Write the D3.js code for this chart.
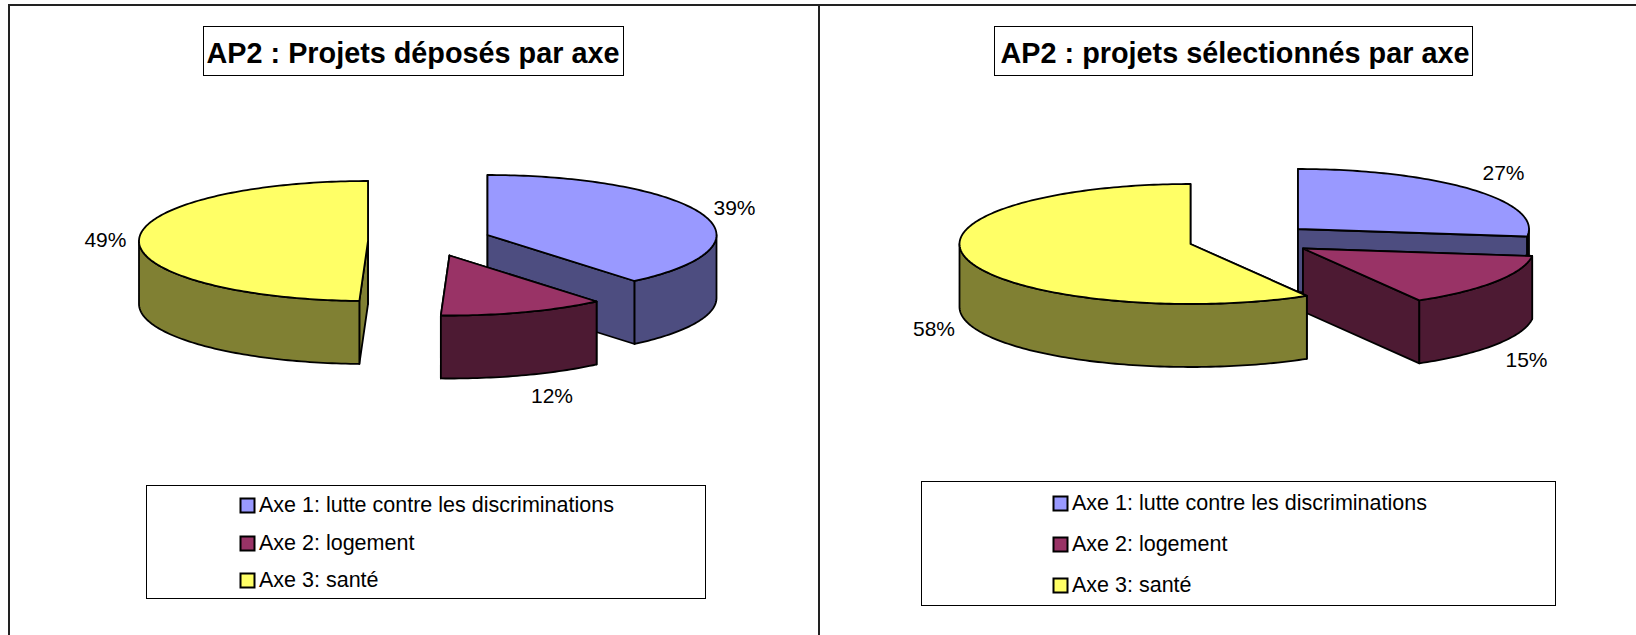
<!DOCTYPE html>
<html>
<head>
<meta charset="utf-8">
<script src="https://cdn.jsdelivr.net/npm/d3@7"></script>
<style>
  body { margin: 0; background: #fff; }
  text { font-family: "Liberation Sans", Arial, sans-serif; fill: #000; }
</style>
</head>
<body>
<svg id="chart"></svg>
<script>
var categories = ["Axe 1: lutte contre les discriminations", "Axe 2: logement", "Axe 3: santé"];
var deposes = [38.9, 11.7, 49.4];
var deposesLabels = ["39%", "12%", "49%"];
var selectionnes = [27, 14.6, 58.4];
var selectionnesLabels = ["27%", "15%", "58%"];
var topColors = ["#9999ff", "#993366", "#ffff66"];
var sideColors = ["#4d4d80", "#4d1a33", "#808033"];

var width = 1636, height = 635;

var svg = d3.select("#chart")
    .attr("width", width)
    .attr("height", height)
    .style("display", "block");

var topColor = d3.scaleOrdinal().domain(categories).range(topColors);
var sideColor = d3.scaleOrdinal().domain(categories).range(sideColors);

var pie = d3.pie().sort(null);

var line = d3.line();

// point on the tilted ellipse, angle clockwise from 12 o'clock
function ellipsePoint(c, a, g, dy) {
    return [c[0] + g.rx * Math.sin(a), c[1] - g.ry * Math.cos(a) + (dy || 0)];
}

function arcPoints(c, a0, a1, g, dy) {
    var n = Math.max(2, Math.ceil(Math.abs(a1 - a0) / 0.02));
    return d3.range(n + 1).map(function (i) {
        return ellipsePoint(c, a0 + (a1 - a0) * i / n, g, dy);
    });
}

function outline(sel, fill) {
    sel.attr("fill", fill)
        .attr("stroke", "#000")
        .attr("stroke-width", 1.8)
        .attr("stroke-linejoin", "round");
}

function drawPie(chart) {
    var g = svg.append("g");
    var slices = pie(chart.values);

    // blue first, then the others on top, same order as the original
    slices.forEach(function (s, i) {
        var c = chart.centers[i];
        var name = categories[i];
        var start = [c[0], c[1]];
        var face = g.append("g");

        // the two cut faces
        [s.startAngle, s.endAngle].forEach(function (a) {
            var p = ellipsePoint(c, a, chart);
            face.append("path")
                .attr("d", line([start, p, [p[0], p[1] + chart.depth], [c[0], c[1] + chart.depth]]) + "Z")
                .call(outline, sideColor(name));
        });

        // outer rim, only the part turned to the viewer
        var a0 = Math.max(s.startAngle, Math.PI / 2);
        var a1 = Math.min(s.endAngle, Math.PI * 1.5);
        if (a1 > a0) {
            var pts = arcPoints(c, a0, a1, chart)
                .concat(arcPoints(c, a1, a0, chart, chart.depth));
            face.append("path")
                .attr("d", line(pts) + "Z")
                .call(outline, sideColor(name));
        }

        // top
        face.append("path")
            .attr("d", line([start].concat(arcPoints(c, s.startAngle, s.endAngle, chart))) + "Z")
            .call(outline, topColor(name));
    });

    // percent labels
    g.selectAll("text.pct")
        .data(chart.labels)
        .enter()
        .append("text")
        .attr("class", "pct")
        .attr("x", function (d, i) { return chart.labelPos[i][0]; })
        .attr("y", function (d, i) { return chart.labelPos[i][1]; })
        .attr("text-anchor", "middle")
        .attr("dominant-baseline", "central")
        .style("font-size", "21px")
        .text(function (d) { return d; });

    // title
    var t = chart.title;
    svg.append("rect")
        .attr("x", t.x0 + 0.5).attr("y", t.y0 + 0.5)
        .attr("width", t.x1 - t.x0).attr("height", t.y1 - t.y0)
        .attr("fill", "#fff").attr("stroke", "#000");
    svg.append("text")
        .attr("x", t.cx)
        .attr("y", (t.y0 + t.y1) / 2 + 2)
        .attr("text-anchor", "middle")
        .attr("dominant-baseline", "central")
        .style("font-size", "28.8px")
        .style("font-weight", "bold")
        .text(t.text);

    // legend
    var l = chart.legend;
    svg.append("rect")
        .attr("x", l.x0 + 0.5).attr("y", l.y0 + 0.5)
        .attr("width", l.x1 - l.x0).attr("height", l.y1 - l.y0)
        .attr("fill", "#fff").attr("stroke", "#000");
    var rows = svg.selectAll(null)
        .data(categories)
        .enter()
        .append("g")
        .attr("transform", function (d, i) { return "translate(" + l.x + "," + l.rows[i] + ")"; });
    rows.append("rect")
        .attr("x", 0.5).attr("y", -6.5)
        .attr("width", 14).attr("height", 14)
        .attr("fill", function (d) { return topColor(d); })
        .attr("stroke", "#000")
        .attr("stroke-width", 2);
    rows.append("text")
        .attr("x", 19)
        .attr("dominant-baseline", "central")
        .style("font-size", "21.5px")
        .text(function (d) { return d; });
}

// page frame
svg.append("line").attr("x1", 8).attr("x2", 1636).attr("y1", 5).attr("y2", 5).attr("stroke", "#222").attr("stroke-width", 2);
svg.append("line").attr("x1", 9).attr("x2", 9).attr("y1", 4).attr("y2", 635).attr("stroke", "#222").attr("stroke-width", 2);
svg.append("line").attr("x1", 819).attr("x2", 819).attr("y1", 4).attr("y2", 635).attr("stroke", "#222").attr("stroke-width", 2);

drawPie({
    values: deposes,
    labels: deposesLabels,
    centers: [[487.5, 235], [449.5, 255.5], [368, 241]],
    rx: 229, ry: 60, depth: 63,
    labelPos: [[734.5, 207.6], [552, 395.5], [105.4, 239]],
    title: { text: "AP2 : Projets déposés par axe", x0: 203, x1: 623, y0: 26, y1: 75, cx: 413 },
    legend: { x0: 146, x1: 705, y0: 485, y1: 598, x: 240, rows: [505, 543, 580] }
});

drawPie({
    values: selectionnes,
    labels: selectionnesLabels,
    centers: [[1298, 229], [1303, 248.5], [1190.5, 244]],
    rx: 231, ry: 60, depth: 63,
    labelPos: [[1503.5, 172.2], [1526.5, 359], [934, 328.7]],
    title: { text: "AP2 : projets sélectionnés par axe", x0: 994, x1: 1472, y0: 26, y1: 75, cx: 1235 },
    legend: { x0: 921, x1: 1555, y0: 481, y1: 605, x: 1053, rows: [503, 544, 585] }
});
</script>
</body>
</html>
